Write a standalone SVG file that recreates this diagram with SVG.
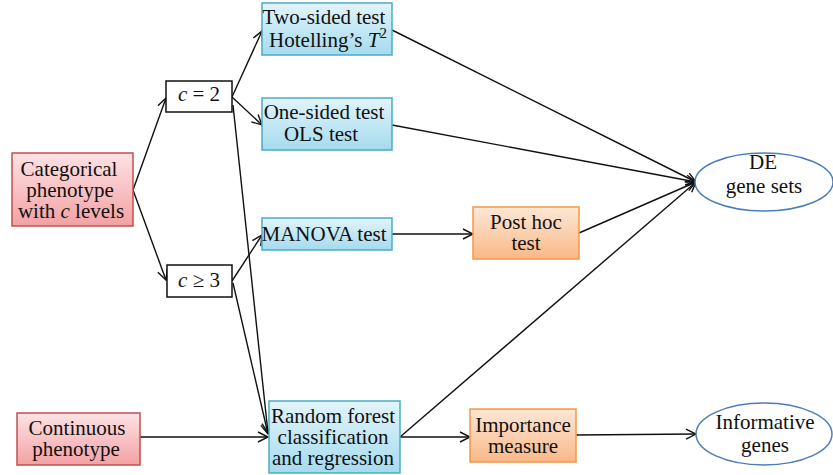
<svg xmlns="http://www.w3.org/2000/svg" width="833" height="475" viewBox="0 0 833 475">
<style>
text{font-family:"Liberation Serif","Times New Roman",serif;font-size:21px;fill:#111;text-anchor:middle}
.blue{fill:url(#gb);stroke:#4bacc6;stroke-width:1.5}
.pink{fill:url(#gp);stroke:#c0504d;stroke-width:1.5}
.orange{fill:url(#go);stroke:#f79646;stroke-width:1.5}
.plain{fill:#fff;stroke:#111;stroke-width:1.5}
.ell{fill:#fff;stroke:#4a7ebb;stroke-width:1.5}
#connectors line{stroke:#111;stroke-width:1.4;fill:none;marker-end:url(#ah)}
</style>
<defs>
<linearGradient id="gb" x1="0" y1="0" x2="0" y2="1"><stop offset="0" stop-color="#e2f4fb"/><stop offset="1" stop-color="#a5dbee"/></linearGradient>
<linearGradient id="gp" x1="0" y1="0" x2="0" y2="1"><stop offset="0" stop-color="#fde3e6"/><stop offset="1" stop-color="#f3a1a3"/></linearGradient>
<linearGradient id="go" x1="0" y1="0" x2="0" y2="1"><stop offset="0" stop-color="#fde7d6"/><stop offset="1" stop-color="#f9b888"/></linearGradient>
<marker id="ah" viewBox="0 0 12 12" refX="11" refY="6" markerWidth="12" markerHeight="12" markerUnits="userSpaceOnUse" orient="auto">
<path d="M1,1 L11,6 L1,11" fill="none" stroke="#111" stroke-width="1.4"/>
</marker>
</defs>
<rect width="833" height="475" fill="#fff"/>
<g id="connectors">
<line x1="133" y1="190" x2="166" y2="98"/>
<line x1="133" y1="190" x2="166" y2="280"/>
<line x1="232" y1="97" x2="262" y2="31"/>
<line x1="232" y1="97" x2="262" y2="125"/>
<line x1="233" y1="105" x2="268" y2="433"/>
<line x1="232" y1="281" x2="262" y2="235"/>
<line x1="233" y1="283" x2="268" y2="434"/>
<line x1="140" y1="437" x2="268" y2="437"/>
<line x1="392" y1="234" x2="473" y2="234"/>
<line x1="400" y1="437" x2="470" y2="437"/>
<line x1="576" y1="435" x2="696" y2="434"/>
<line x1="392" y1="30" x2="696" y2="182"/>
<line x1="392" y1="125" x2="696" y2="182"/>
<line x1="579" y1="233" x2="696" y2="182"/>
<line x1="400" y1="437" x2="696" y2="182"/>
</g>
<g id="categorical">
<rect class="pink" x="12" y="153" width="121" height="73"/>
<text x="69" y="176">Categorical</text>
<text x="70" y="197">phenotype</text>
<text x="71" y="218">with <tspan font-style="italic">c</tspan> levels</text>
</g>
<g id="c2">
<rect class="plain" x="166" y="81" width="66" height="31"/>
<text x="199" y="101"><tspan font-style="italic">c</tspan> = 2</text>
</g>
<g id="c3">
<rect class="plain" x="167" y="265" width="65" height="32"/>
<text x="199" y="287"><tspan font-style="italic">c</tspan> ≥ 3</text>
</g>
<g id="twosided">
<rect class="blue" x="262" y="3" width="130" height="52"/>
<text x="324" y="24">Two-sided test</text>
<text x="328" y="47">Hotelling’s <tspan font-style="italic">T</tspan><tspan font-size="15" dy="-9">2</tspan></text>
</g>
<g id="onesided">
<rect class="blue" x="262" y="98" width="130" height="52"/>
<text x="324" y="119">One-sided test</text>
<text x="321" y="141">OLS test</text>
</g>
<g id="manova">
<rect class="blue" x="262" y="218" width="130" height="32"/>
<text x="324" y="241">MANOVA test</text>
</g>
<g id="posthoc">
<rect class="orange" x="473" y="207" width="106" height="52"/>
<text x="526" y="229">Post hoc</text>
<text x="526" y="250">test</text>
</g>
<g id="continuous">
<rect class="pink" x="17" y="413" width="123" height="52"/>
<text x="77" y="435">Continuous</text>
<text x="76" y="456">phenotype</text>
</g>
<g id="randomforest">
<rect class="blue" x="269" y="401" width="131" height="72"/>
<text x="333" y="423">Random forest</text>
<text x="333" y="444">classification</text>
<text x="333" y="465">and regression</text>
</g>
<g id="importance">
<rect class="orange" x="470" y="409" width="106" height="53"/>
<text x="523" y="432">Importance</text>
<text x="523" y="453">measure</text>
</g>
<g id="degenesets">
<ellipse class="ell" cx="764" cy="182" rx="69" ry="29"/>
<text x="763" y="169">DE</text>
<text x="764" y="193">gene sets</text>
</g>
<g id="informative">
<ellipse class="ell" cx="764" cy="434" rx="68" ry="31"/>
<text x="765" y="429">Informative</text>
<text x="765" y="452">genes</text>
</g>
</svg>
